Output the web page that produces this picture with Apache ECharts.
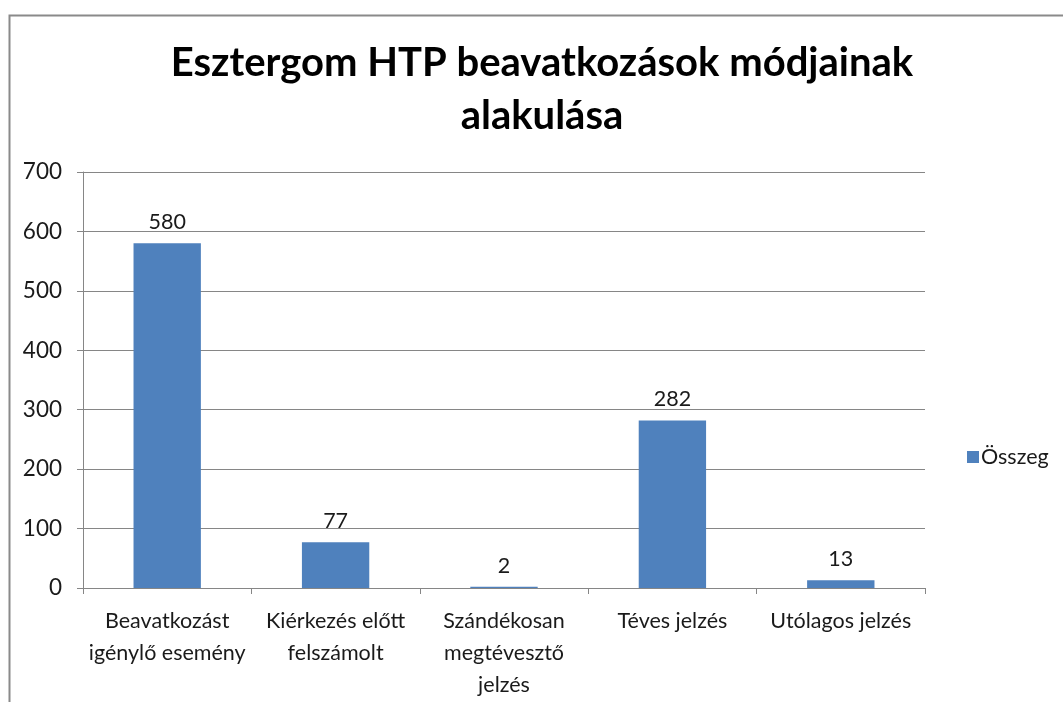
<!DOCTYPE html>
<html>
<head>
<meta charset="utf-8">
<script src="https://cdn.jsdelivr.net/npm/echarts@6/dist/echarts.min.js"></script>
<style>
  html, body { margin: 0; padding: 0; background: #fff; }
  #chart { width: 1063px; height: 702px; }
</style>
</head>
<body>
<div id="chart"></div>
<script>
const titleText = "Esztergom HTP beavatkozások módjainak\nalakulása";
const categories = [
  "Beavatkozást\nigénylő esemény",
  "Kiérkezés előtt\nfelszámolt",
  "Szándékosan\nmegtévesztő\njelzés",
  "Téves jelzés",
  "Utólagos jelzés",
];
const seriesName = "Összeg";
const values = [580, 77, 2, 282, 13];
const yTicks = { min: 0, max: 700, interval: 100 };

const FONT = "Lato, 'Open Sans', sans-serif";
const AXIS_GRAY = "#868686";
const TEXT = "#1a1a1a";

const chart = echarts.init(document.getElementById("chart"), null, { renderer: "canvas" });

chart.setOption({
  animation: false,
  backgroundColor: "#fff",
  textStyle: { fontFamily: FONT },
  title: {
    text: titleText,
    left: 537,
    textAlign: "center",
    top: 32,
    textStyle: {
      fontFamily: FONT,
      fontSize: 40,
      fontWeight: "bold",
      color: "#000",
      lineHeight: 53,
    },
  },
  legend: {
    data: [seriesName],
    left: 962,
    top: 441,
    itemWidth: 12,
    itemHeight: 12,
    itemGap: 6,
    icon: "rect",
    textStyle: { fontFamily: FONT, fontSize: 21.5, color: TEXT, padding: [0, 0, 0, -3] },
  },
  grid: { left: 83, right: 138, top: 172, bottom: 114, containLabel: false },
  xAxis: {
    type: "category",
    data: categories,
    z: 5,
    axisLine: { lineStyle: { color: AXIS_GRAY, width: 1 } },
    axisTick: { show: true, alignWithLabel: false, length: 6, lineStyle: { color: AXIS_GRAY } },
    axisLabel: {
      interval: 0,
      margin: 17,
      fontFamily: FONT,
      fontSize: 21.5,
      color: TEXT,
      lineHeight: 32,
    },
  },
  yAxis: {
    type: "value",
    min: yTicks.min,
    max: yTicks.max,
    interval: yTicks.interval,
    axisLine: { show: true, lineStyle: { color: AXIS_GRAY, width: 1 } },
    axisTick: { show: true, length: 6, lineStyle: { color: AXIS_GRAY } },
    splitLine: { show: true, lineStyle: { color: AXIS_GRAY, width: 1 } },
    axisLabel: {
      margin: 21,
      fontFamily: FONT,
      fontSize: 22.5,
      color: TEXT,
    },
  },
  series: [
    {
      name: seriesName,
      type: "bar",
      data: values,
      barWidth: "40%",
      itemStyle: { color: "#4F81BD" },
      label: {
        show: true,
        position: "top",
        distance: 10,
        fontFamily: FONT,
        fontSize: 21.5,
        color: TEXT,
      },
    },
  ],
  graphic: [
    {
      type: "rect",
      silent: true,
      z: -1,
      shape: { x: 9.5, y: 15.5, width: 1200, height: 900 },
      style: { fill: null, stroke: "#8a8a8a", lineWidth: 2 },
    },
  ],
});
</script>
</body>
</html>
